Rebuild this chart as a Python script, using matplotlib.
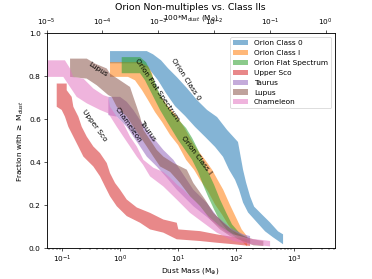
"""
Orion non-multiples vs. Class IIs: cumulative dust mass distributions
"""
import matplotlib
matplotlib.use('Agg')
import matplotlib.pyplot as plt
from matplotlib.patches import Patch
from matplotlib.ticker import NullLocator

# each band: upper/right edge and lower/left edge as (dust mass [M_earth], fraction)
class0_upper = [(0.666, 0.918), (2.87, 0.918), (3.69, 0.903), (5.07, 0.875), (6.69, 0.838),
                (9.57, 0.796), (14.25, 0.745), (21.2, 0.690), (31.6, 0.644), (47.0, 0.611),
                (69.9, 0.551), (108, 0.495), (132, 0.366), (149, 0.306), (175, 0.241),
                (205, 0.194), (281, 0.157), (387, 0.120), (531, 0.079), (648, 0.065)]
class0_lower = [(0.666, 0.861), (2.20, 0.861), (3.27, 0.829), (4.50, 0.782), (6.18, 0.722),
                (8.84, 0.662), (13.2, 0.616), (19.6, 0.565), (29.2, 0.519), (43.4, 0.472),
                (59.6, 0.426), (75.7, 0.366), (96.1, 0.319), (112.7, 0.273), (132, 0.213),
                (161, 0.167), (231, 0.120), (317, 0.079), (436, 0.051), (648, 0.019)]

class1_upper = [(0.666, 0.867), (2.20, 0.867), (3.02, 0.847), (3.54, 0.815), (3.99, 0.759),
                (4.87, 0.713), (6.43, 0.667), (9.2, 0.620), (12.9, 0.560), (16.8, 0.505),
                (21.6, 0.458), (29.2, 0.412), (38.5, 0.366), (48.0, 0.319), (60.0, 0.273),
                (78.0, 0.204), (98.0, 0.148), (125, 0.088), (155, 0.056)]
class1_lower = [(0.666, 0.798), (1.364, 0.798), (1.80, 0.782), (2.38, 0.736), (3.02, 0.690),
                (3.99, 0.634), (5.27, 0.588), (7.25, 0.528), (9.96, 0.481), (13.7, 0.412),
                (18.8, 0.366), (23.9, 0.319), (32.9, 0.264), (43.4, 0.204), (57.3, 0.157),
                (72.7, 0.111), (96.1, 0.065), (155, 0.009)]

flat_upper = [(1.06, 0.890), (2.20, 0.890), (2.79, 0.866), (3.27, 0.829), (3.84, 0.782),
              (4.50, 0.736), (5.49, 0.690), (7.25, 0.644), (9.57, 0.606), (13.7, 0.560),
              (17.4, 0.514), (22.1, 0.458), (26.9, 0.403), (32.9, 0.356), (41.7, 0.296),
              (52.9, 0.227), (67.2, 0.167), (85.3, 0.111), (117, 0.069), (175, 0.042)]
flat_lower = [(1.06, 0.815), (2.20, 0.815), (2.68, 0.782), (3.27, 0.736), (3.99, 0.690),
              (4.87, 0.644), (6.18, 0.597), (7.85, 0.551), (9.96, 0.505), (13.2, 0.458),
              (17.4, 0.412), (22.1, 0.356), (26.9, 0.296), (32.9, 0.241), (41.7, 0.181),
              (52.9, 0.125), (72.7, 0.079), (108, 0.042), (175, 0.023)]

usco_upper = [(0.080, 0.767), (0.119, 0.767), (0.119, 0.736), (0.145, 0.705), (0.155, 0.659),
              (0.189, 0.613), (0.216, 0.566), (0.264, 0.520), (0.343, 0.474), (0.448, 0.443),
              (0.585, 0.397), (0.666, 0.350), (0.813, 0.304), (0.992, 0.273), (1.295, 0.227),
              (1.93, 0.190), (3.27, 0.165), (5.55, 0.134), (9.46, 0.119), (10.08, 0.088),
              (23.9, 0.080), (46.4, 0.065), (102.8, 0.050), (174.5, 0.042)]
usco_lower = [(0.080, 0.767), (0.080, 0.659), (0.0976, 0.644), (0.111, 0.613), (0.127, 0.566),
              (0.155, 0.520), (0.189, 0.474), (0.231, 0.427), (0.343, 0.381), (0.448, 0.335),
              (0.546, 0.288), (0.666, 0.242), (0.870, 0.196), (1.295, 0.150), (2.20, 0.119),
              (3.27, 0.088), (5.55, 0.073), (9.46, 0.042), (23.9, 0.034), (46.4, 0.026),
              (89.8, 0.019), (174.5, 0.011)]

taurus_upper = [(0.623, 0.705), (0.992, 0.705), (1.295, 0.682), (1.684, 0.644), (2.20, 0.597),
                (2.87, 0.551), (3.99, 0.505), (5.55, 0.458), (8.26, 0.412), (10.8, 0.366),
                (14.1, 0.319), (18.3, 0.273), (31.2, 0.212), (46.4, 0.150), (78.8, 0.096),
                (133.7, 0.065), (174.5, 0.057)]
taurus_lower = [(0.623, 0.620), (0.870, 0.613), (1.295, 0.566), (1.684, 0.520), (2.20, 0.474),
                (2.87, 0.427), (4.27, 0.381), (6.35, 0.329), (9.46, 0.273), (18.3, 0.196),
                (35.6, 0.134), (69.1, 0.073), (133.7, 0.050), (174.5, 0.034)]

lupus_upper = [(0.136, 0.883), (0.264, 0.883), (0.367, 0.860), (0.585, 0.837), (0.666, 0.813),
               (0.992, 0.782), (1.476, 0.751), (1.684, 0.705), (1.93, 0.659), (2.20, 0.613),
               (2.51, 0.551), (3.27, 0.505), (4.27, 0.458), (5.55, 0.427), (8.26, 0.397),
               (14.1, 0.366), (18.3, 0.304), (29.2, 0.227), (40.6, 0.165), (60.4, 0.119),
               (89.8, 0.080), (133.7, 0.057), (199, 0.042), (296, 0.034)]
lupus_lower = [(0.136, 0.798), (0.264, 0.790), (0.393, 0.759), (0.623, 0.713), (0.713, 0.705),
               (0.870, 0.659), (1.295, 0.613), (1.684, 0.566), (2.20, 0.520), (2.87, 0.474),
               (3.73, 0.427), (4.87, 0.381), (7.25, 0.356), (10.8, 0.304), (16.05, 0.242),
               (23.9, 0.196), (35.6, 0.134), (52.9, 0.088), (78.8, 0.057), (133.7, 0.034),
               (199, 0.014), (296, 0.011)]

cham_upper = [(0.045, 0.875), (0.111, 0.875), (0.136, 0.837), (0.155, 0.798), (0.231, 0.790),
              (0.343, 0.744), (0.511, 0.713), (0.623, 0.705), (0.666, 0.659), (0.870, 0.613),
              (1.131, 0.582), (1.476, 0.520), (1.93, 0.474), (2.51, 0.412), (3.73, 0.375),
              (5.49, 0.356), (7.25, 0.329), (9.57, 0.296), (12.3, 0.273), (16.05, 0.241),
              (21.0, 0.212), (33.2, 0.150), (52.9, 0.103), (89.8, 0.065), (174.5, 0.045),
              (296, 0.038), (387, 0.034)]
cham_lower = [(0.045, 0.798), (0.104, 0.798), (0.136, 0.751), (0.177, 0.705), (0.264, 0.675),
              (0.448, 0.644), (0.623, 0.628), (0.870, 0.566), (1.131, 0.520), (1.476, 0.474),
              (1.93, 0.427), (2.48, 0.389), (3.27, 0.335), (5.55, 0.288), (9.46, 0.227),
              (16.05, 0.165), (27.2, 0.119), (46.4, 0.073), (89.8, 0.034), (174.5, 0.019),
              (387, 0.009)]

names = ['Orion Class 0', 'Orion Class I', 'Orion Flat Spectrum', 'Upper Sco',
         'Taurus', 'Lupus', 'Chameleon']
uppers = [class0_upper, class1_upper, flat_upper, usco_upper, taurus_upper, lupus_upper, cham_upper]
lowers = [class0_lower, class1_lower, flat_lower, usco_lower, taurus_lower, lupus_lower, cham_lower]
colors = ['tab:blue', 'tab:orange', 'tab:green', 'tab:red', 'tab:purple', 'tab:brown', 'tab:pink']

# label positions (mass, fraction, rotation)
labels = {'Orion Class 0': (13.7, 0.787, -57),
          'Orion Flat Spectrum': (4.32, 0.736, -56),
          'Orion Class I': (20.8, 0.435, -53),
          'Upper Sco': (0.353, 0.574, -54),
          'Chameleon': (1.364, 0.574, -55),
          'Taurus': (2.96, 0.546, -55),
          'Lupus': (0.405, 0.833, -33)}

plt.rcParams['font.size'] = 9.15

dpi = 372 / 6.4
fig, ax = plt.subplots(figsize=(6.4, 4.8), dpi=dpi)

handles = []
for name, up, lo, c in zip(names, uppers, lowers, colors):
    xs = [p[0] for p in up] + [p[0] for p in lo[::-1]]
    ys = [p[1] for p in up] + [p[1] for p in lo[::-1]]
    ax.fill(xs, ys, color=c, alpha=0.55, lw=0)
    handles.append(Patch(facecolor=c, alpha=0.55, label=name))

for name, (xm, yf, rot) in labels.items():
    ax.text(xm, yf, name, rotation=rot, ha='center', va='center', rotation_mode='anchor')

ax.set_xscale('log')
ax.set_xlim(0.0533, 5070)
ax.set_ylim(0, 1)
ax.set_xlabel('Dust Mass (M$_{\\oplus}$)', labelpad=1)
ax.set_ylabel('Fraction with $\\geq$ M$_{dust}$')
ax.legend(handles=handles, loc='upper right')

ax2 = ax.twiny()
ax2.set_xscale('log')
ax2.set_xlim(1e-5, 1.46)
ax2.xaxis.set_minor_locator(NullLocator())
ax2.set_xlabel('100*M$_{dust}$ (M$_{\\odot}$)', labelpad=-3.4)

ax.set_title('Orion Non-multiples vs. Class IIs', fontsize=11.7, pad=3)

fig.savefig('out.png', dpi=dpi)
